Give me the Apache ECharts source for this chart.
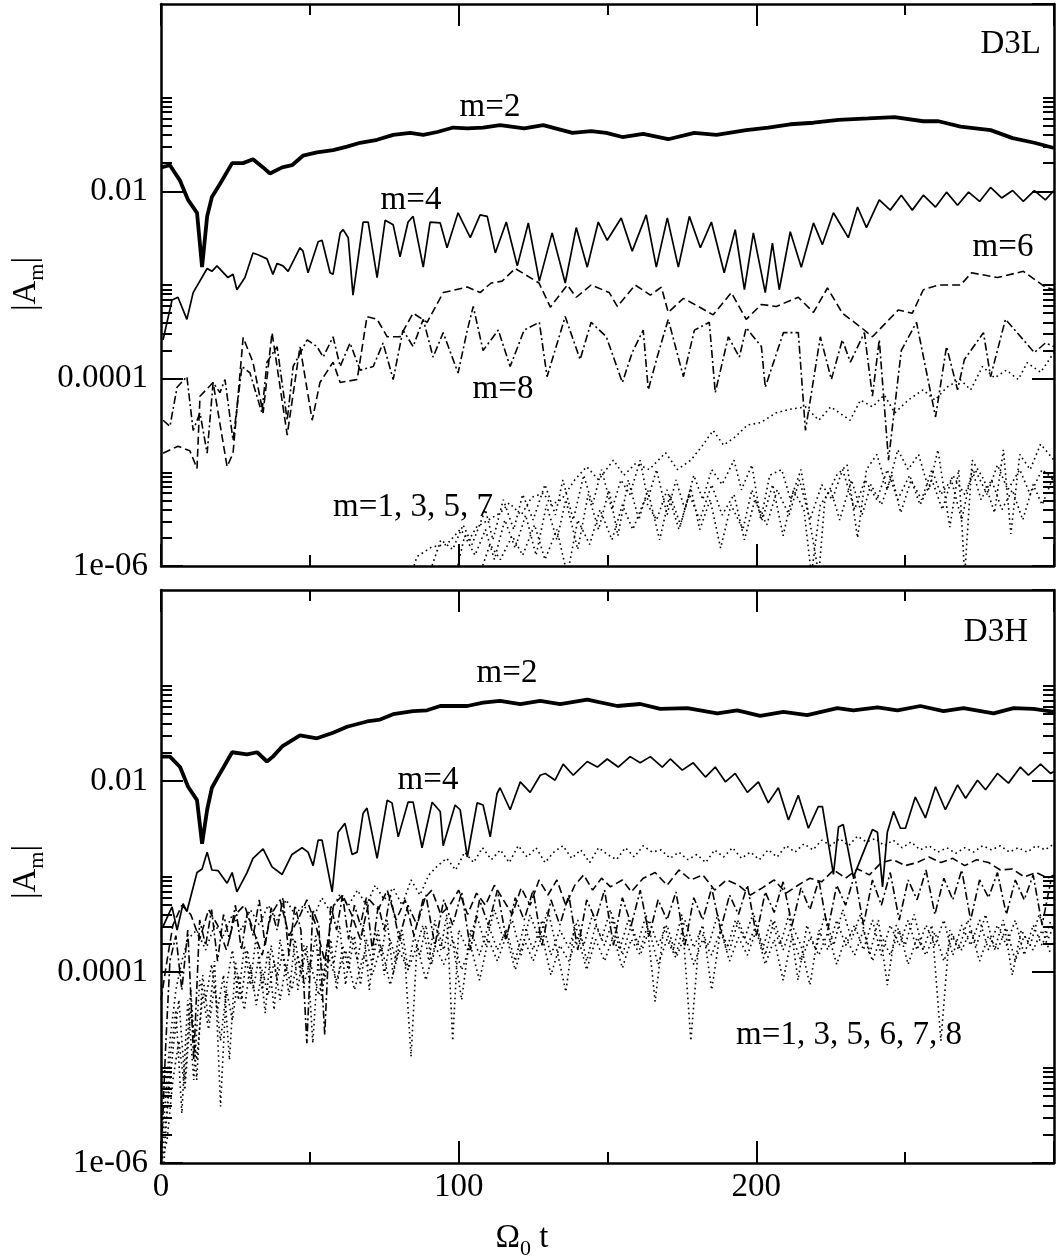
<!DOCTYPE html>
<html>
<head>
<meta charset="utf-8">
<title>|A_m| vs Omega_0 t</title>
<script src="https://cdn.jsdelivr.net/npm/echarts@6.0.0/dist/echarts.min.js"></script>
<style>
  html, body { margin: 0; padding: 0; background: #fff; }
  #chart { width: 1058px; height: 1256px; }
</style>
</head>
<body>
<div id="chart"></div>
<script>
// axis ticks / labels
var xMax = 300;
var xLabelValues = [0, 100, 200];
var yMajorExp = [-6, -4, -2, 0];
var yTickLabels = ['1e-06', '0.0001', '0.01', '1'];
var yMinorMult = [2, 3, 4, 5, 6, 7, 8, 9, 10];

// ---- panel D3L : [Omega_0 t, |A_m|] ----
var m2Top = [[0,1.8e-2],[3,1.9e-2],[6.4,1.3e-2],[9.1,8.1e-3],[12.1,5.9e-3],[13.8,1.55e-3],[15.5,5.4e-3],[17.1,8.7e-3],[19.8,1.2e-2],[23.9,2.0e-2],[27.6,2.0e-2],[30.9,2.2e-2],[34.3,1.8e-2],[36.6,1.55e-2],[40.7,1.8e-2],[44,1.9e-2],[47.7,2.4e-2],[52.4,2.6e-2],[57.8,2.75e-2],[62.5,3.0e-2],[66.9,3.3e-2],[72.6,3.55e-2],[78,4.0e-2],[83.7,4.2e-2],[88.1,4.0e-2],[92.8,4.3e-2],[98.2,4.8e-2],[102.9,4.7e-2],[108.2,4.8e-2],[113.9,5.1e-2],[122,4.7e-2],[128.4,5.1e-2],[138.2,4.2e-2],[144.5,4.4e-2],[149.6,4.2e-2],[155,3.8e-2],[162,4.1e-2],[170.4,3.6e-2],[179.2,4.2e-2],[186.6,4.0e-2],[196.6,4.5e-2],[204,4.8e-2],[211.4,5.2e-2],[219.2,5.4e-2],[227.6,5.8e-2],[237.6,6.0e-2],[246.4,6.2e-2],[256.1,5.6e-2],[261.2,5.6e-2],[268.6,4.9e-2],[278.7,4.5e-2],[286.1,3.7e-2],[293.4,3.3e-2],[300,2.9e-2]];

var m4Top = [[0.7,2.6e-4],[3.7,6.9e-4],[5.7,7.4e-4],[8.7,4.3e-4],[10.8,8.3e-4],[15.5,1.5e-3],[17.1,1.4e-3],[18.8,1.6e-3],[22.5,1.2e-3],[24.2,1.3e-3],[25.5,8.9e-4],[28.2,1.2e-3],[30.9,2.2e-3],[32.6,2.1e-3],[35.6,1.9e-3],[37.6,1.3e-3],[39,1.7e-3],[41,1.6e-3],[42.7,1.4e-3],[46.7,2.5e-3],[47.7,2.3e-3],[49.4,1.35e-3],[52.8,2.9e-3],[54.1,3.0e-3],[56.8,1.35e-3],[57.8,1.3e-3],[60.2,3.6e-3],[61.2,3.9e-3],[62.9,3.2e-3],[64.5,7.8e-4],[67.9,4.7e-3],[69.6,4.7e-3],[72.6,1.2e-3],[75.3,4.9e-3],[78,4.4e-3],[80.3,2.0e-3],[83,4.7e-3],[84.7,5.4e-3],[88.1,1.55e-3],[90.4,4.7e-3],[93.8,4.6e-3],[96.1,2.5e-3],[99.8,5.9e-3],[103.9,3.2e-3],[107.2,5.6e-3],[109.6,5.4e-3],[112.3,2.2e-3],[116,4.7e-3],[119.7,1.6e-3],[123.4,4.6e-3],[127.1,1.1e-3],[131.4,3.6e-3],[135.8,1.05e-3],[139.5,4.1e-3],[143.2,1.55e-3],[146.9,4.7e-3],[149.9,3.0e-3],[154.6,5.2e-3],[158.3,2.3e-3],[163,5.6e-3],[166.4,1.55e-3],[170.1,5.2e-3],[173.8,1.55e-3],[177.5,5.4e-3],[181.2,2.5e-3],[184.9,4.7e-3],[189.2,1.35e-3],[192.9,3.9e-3],[196,8.9e-4],[199,3.6e-3],[203,8.3e-4],[205.4,2.8e-3],[207.7,8.9e-4],[211.4,3.7e-3],[215.1,1.55e-3],[219.2,4.6e-3],[222.2,2.7e-3],[225.9,5.9e-3],[230.9,3.2e-3],[234,6.8e-3],[237,4.1e-3],[241.3,8.1e-3],[245,6.3e-3],[248.7,9.1e-3],[252.4,6.3e-3],[256.1,9.1e-3],[260.2,6.8e-3],[263.9,9.8e-3],[267.6,7.1e-3],[271.3,9.8e-3],[275,7.8e-3],[278.7,1.1e-2],[282.4,8.5e-3],[286.1,1.02e-2],[289.7,7.8e-3],[293.4,1.02e-2],[297.1,8.1e-3],[300,1.02e-2]];

var m6Top = [[0.7,1.6e-5],[5.7,1.9e-5],[9.7,1.7e-5],[12.1,1.1e-5],[13.1,6.5e-5],[17.5,9.1e-5],[22.2,1.15e-5],[24.2,1.6e-5],[27.6,2.75e-4],[30.9,1.5e-4],[34.3,4.3e-5],[37.3,3.1e-4],[42.4,2.5e-5],[46.7,2.2e-4],[50.8,3.6e-5],[53.4,9.1e-5],[57.8,1.5e-4],[60.2,9.1e-5],[65.9,9.8e-5],[69.2,4.6e-4],[72.6,4.3e-4],[76,2.8e-4],[80.3,2.8e-4],[84.7,5.0e-4],[89.4,4.0e-4],[94.8,8.3e-4],[102.9,9.5e-4],[107.2,8.3e-4],[110.9,1.05e-3],[114.6,1.1e-3],[119,1.5e-3],[127,1.05e-3],[130.8,5.8e-4],[136.5,1.0e-3],[139.5,7.4e-4],[144.5,1.0e-3],[150.6,8.3e-4],[153.3,5.9e-4],[159.3,1.0e-3],[164.4,7.8e-4],[168.1,9.5e-4],[170.4,5.1e-4],[175.5,7.2e-4],[180.5,5.9e-4],[185.5,4.8e-4],[191.6,8.3e-4],[196.6,4.3e-4],[201.7,6.2e-4],[206.7,5.9e-4],[214.1,7.4e-4],[219.2,5.1e-4],[223.9,9.3e-4],[228.9,5.0e-4],[235.3,3.5e-4],[239,2.8e-4],[243.7,4.0e-4],[247.7,5.4e-4],[252.4,5.0e-4],[256.1,8.9e-4],[261.2,1.0e-3],[268.6,1.0e-3],[272.3,1.35e-3],[281,1.2e-3],[289.7,1.4e-3],[297.1,9.5e-4],[300,8.9e-4]];

var m8Top = [[0.7,3.6e-5],[3,3.1e-5],[5.4,8.1e-5],[8.7,1.05e-4],[10.8,2.8e-5],[13.1,4.3e-5],[15.5,1.6e-5],[17.5,9.1e-5],[19.8,7.1e-5],[21.5,9.8e-5],[24.2,2.2e-5],[27.2,1.35e-4],[29.9,1.15e-4],[33.9,4.3e-5],[35.6,1.5e-4],[39,2.2e-4],[42.4,3.6e-5],[44.4,1.35e-4],[49.1,2.6e-4],[52.4,2.2e-4],[54.5,1.7e-4],[57.8,2.8e-4],[60.2,1.35e-4],[63.5,2.4e-4],[66.9,1.23e-4],[71.3,1.35e-4],[74.6,2.4e-4],[78,9.8e-5],[81.3,3.3e-4],[84.7,2.2e-4],[88.1,4.3e-4],[91.4,1.7e-4],[94.8,3.1e-4],[99.8,1.15e-4],[102.9,3.3e-4],[104.9,5.9e-4],[108.2,2.0e-4],[113.3,3.3e-4],[117.3,1.35e-4],[122,3.3e-4],[127.1,4.0e-4],[129.7,1.05e-4],[135.8,4.6e-4],[140.8,1.6e-4],[144.5,4.0e-4],[149.6,2.8e-4],[155,9.1e-5],[158.3,1.9e-4],[162,3.3e-4],[163.7,7.6e-5],[166.7,1.7e-4],[170.4,4.3e-4],[175.5,1.05e-4],[179.2,3.3e-4],[184.2,4.0e-4],[186.2,7.1e-5],[190.6,2.8e-4],[194.3,1.7e-4],[196.6,3.5e-4],[201.7,2.2e-4],[203,8.1e-5],[209.1,3.1e-4],[214.1,3.1e-4],[216.5,2.8e-5],[221.5,2.8e-4],[225.2,9.8e-5],[228.9,2.6e-4],[231.6,1.5e-4],[236.3,3.1e-4],[239,6.5e-5],[241.3,2.6e-4],[244.4,1.35e-5],[248.7,2.0e-4],[253.8,4.0e-4],[260.2,3.9e-5],[263.9,2.2e-4],[267.6,7.6e-5],[269.9,1.6e-4],[276.3,3.1e-4],[278.7,1.05e-4],[283.7,4.3e-4],[289.7,2.6e-4],[293.4,1.9e-4],[297.1,2.4e-4],[300,2.2e-4]];

var m1Top = [[84,8e-7],[86,1.26e-6],[91,1.6e-6],[96,1.7e-6],[100.5,2.45e-6],[103.5,1.9e-6],[106,2.6e-6],[110,3.1e-6],[114,3.7e-6],[117,4.7e-6],[121,3.5e-6],[124.5,5.4e-6],[128.5,6.0e-6],[131,4.5e-6],[134.5,5.1e-6],[139,8.3e-6],[143,1.15e-5],[147,8.3e-6],[152,1.35e-5],[155.5,9.3e-6],[159.5,1.25e-5],[164,1.07e-5],[169.5,1.62e-5],[173.5,1.07e-5],[178,1.35e-5],[182,1.95e-5],[185.5,2.8e-5],[189,1.95e-5],[193,2.4e-5],[197,3.2e-5],[201.5,3.4e-5],[206.5,4.3e-5],[211,4.7e-5],[216.5,5.0e-5],[221,3.6e-5],[225,5.0e-5],[231.5,3.6e-5],[235,5.9e-5],[239,5.0e-5],[243,6.7e-5],[246.5,4.3e-5],[251,5.9e-5],[256,7.6e-5],[260,5.9e-5],[264,8.1e-5],[268.5,9.8e-5],[272,7.6e-5],[276,1.35e-4],[280,1.02e-4],[284,1.23e-4],[288,9.8e-5],[291,1.48e-4],[295.5,1.17e-4],[300,1.9e-4]];

var m3Top = [[90,8e-7],[94,1.9e-6],[98,1.5e-6],[101.5,2.75e-6],[104.5,1.7e-6],[109,4.0e-6],[111.5,1.9e-6],[115,5.1e-6],[118.5,2.45e-6],[121.5,5.8e-6],[125,3.1e-6],[129,7.4e-6],[132.5,3.5e-6],[135,8.3e-6],[138.5,3.1e-6],[142,9.3e-6],[145,4.5e-6],[148,1.07e-5],[151.5,4.0e-6],[154.5,8.3e-6],[157.5,5.8e-6],[161,1.35e-5],[163.5,5.1e-6],[166.5,1.07e-5],[170,3.5e-6],[173,8.3e-6],[176,4.0e-6],[179,9.3e-6],[182,5.1e-6],[185,1.07e-5],[188.5,7.4e-6],[192.5,1.35e-5],[195,6.5e-6],[198.5,1.2e-5],[201.5,3.1e-6],[204.5,9.3e-6],[208.5,1.07e-5],[211.5,5.1e-6],[215,1.07e-5],[219,1.9e-6],[221,8e-7],[223,5.1e-6],[227,9.3e-6],[230.5,1.2e-5],[234,2.0e-6],[237,1.07e-5],[240.5,1.55e-5],[244,6.5e-6],[247.5,1.74e-5],[251,1.07e-5],[254.5,1.55e-5],[258,6.5e-6],[261,1.74e-5],[265,2.6e-6],[268,1.07e-5],[270,8e-7],[272.5,1.35e-5],[276.5,8.3e-6],[280,3.7e-6],[283,1.74e-5],[285.5,2.2e-6],[288.5,1.55e-5],[292,1.07e-5],[295.5,2.0e-5],[300,1.35e-5]];

var m5Top = [[99,8e-7],[102,2.1e-6],[105.5,1.3e-6],[109,2.45e-6],[112,1.17e-6],[115.5,3.1e-6],[119,1.55e-6],[122.5,3.5e-6],[126,1.3e-6],[129.5,4.5e-6],[133,1.9e-6],[136,5.1e-6],[140,1.5e-6],[143.5,5.8e-6],[147,2.45e-6],[150.5,6.5e-6],[153.5,2.1e-6],[157,8.3e-6],[160.5,3.1e-6],[163.5,6.5e-6],[167.5,1.9e-6],[171,5.8e-6],[174.5,2.75e-6],[178,6.8e-6],[181,2.45e-6],[184.5,5.1e-6],[188,1.55e-6],[191.5,4.5e-6],[195.5,2.45e-6],[198.5,6.5e-6],[202,3.1e-6],[205.5,7.4e-6],[209,2.1e-6],[212.5,6.5e-6],[216,4.0e-6],[218.5,8e-7],[221.5,4.5e-6],[225,6.5e-6],[228,3.1e-6],[232,8.3e-6],[235.5,3.5e-6],[238.5,7.4e-6],[242,4.5e-6],[245.5,9.3e-6],[248.5,3.7e-6],[252,8.3e-6],[255.5,5.1e-6],[259,1.07e-5],[262,5.8e-6],[265.5,8.3e-6],[269,3.1e-6],[272.5,1.07e-5],[275.5,5.1e-6],[279,8.3e-6],[282.5,4.0e-6],[286,6.5e-6],[289.5,3.1e-6],[293,7.4e-6],[296,4.5e-6],[300,9.3e-6]];

var m7Top = [[107,8e-7],[110.5,1.7e-6],[114,1.17e-6],[118,2.1e-6],[121.5,1.3e-6],[125.5,2.75e-6],[129,1.17e-6],[133,2.45e-6],[136.5,8e-7],[140,3.1e-6],[144,1.7e-6],[147.5,4.0e-6],[151.5,1.9e-6],[155,4.5e-6],[158.5,2.45e-6],[162.5,5.1e-6],[166.5,3.1e-6],[170,6.5e-6],[174,2.45e-6],[177.5,5.8e-6],[181,3.1e-6],[185,7.4e-6],[188.5,3.5e-6],[192.5,5.8e-6],[196,1.9e-6],[199.5,5.1e-6],[203.5,2.75e-6],[207,6.5e-6],[211,3.5e-6],[214.5,8.3e-6],[218,3.1e-6],[222,7.4e-6],[225.5,5.1e-6],[229,1.07e-5],[233,4.0e-6],[236.5,8.3e-6],[240.5,5.1e-6],[244,1.07e-5],[247.5,5.1e-6],[251.5,9.3e-6],[255,4.5e-6],[259,8.3e-6],[262.5,4.0e-6],[266,9.3e-6],[270,5.8e-6],[273.5,1.07e-5],[277.5,5.8e-6],[281,1.2e-5],[284.5,6.5e-6],[288.5,1.07e-5],[292,5.8e-6],[296,1.07e-5],[300,8.3e-6]];

// ---- panel D3H ----
var m2Bot = [[0,1.8e-2],[3,1.8e-2],[6.4,1.4e-2],[9.1,8.7e-3],[12.1,6.3e-3],[13.8,2.2e-3],[15.5,5.0e-3],[17.1,8.5e-3],[19.8,1.2e-2],[23.9,2.0e-2],[28.9,1.9e-2],[32.3,2.0e-2],[35.6,1.6e-2],[37.6,1.8e-2],[40.7,2.3e-2],[46.7,3.0e-2],[52.4,2.8e-2],[57.8,3.2e-2],[62.5,3.7e-2],[69.2,4.2e-2],[73.6,4.4e-2],[78,5.0e-2],[84.7,5.4e-2],[89.4,5.5e-2],[93.8,6.1e-2],[102.9,6.1e-2],[108.2,6.6e-2],[113.9,6.9e-2],[120.7,6.4e-2],[127.4,6.9e-2],[134.1,6.4e-2],[143.2,7.1e-2],[153.3,6.1e-2],[161,6.4e-2],[167.7,5.7e-2],[176.8,5.8e-2],[186.9,5.1e-2],[193.6,5.5e-2],[201.3,4.8e-2],[209.1,5.3e-2],[217.1,4.9e-2],[227.2,5.8e-2],[232.6,5.5e-2],[240.7,5.9e-2],[247.4,5.5e-2],[255.1,6.1e-2],[262.9,5.4e-2],[269.6,5.8e-2],[279.7,5.1e-2],[286.4,5.8e-2],[293.1,5.7e-2],[300,5.3e-2]];

var m4Bot = [[0.7,3.0e-4],[3.7,4.8e-4],[5.4,2.75e-4],[7.4,5.2e-4],[8.7,4.3e-4],[12.1,1.1e-3],[13.8,1.2e-3],[15.5,1.8e-3],[17.1,1.17e-3],[19.2,1.15e-3],[22.2,8.5e-4],[23.9,1.1e-3],[25.5,6.9e-4],[28.9,1.1e-3],[30.9,1.55e-3],[34.3,1.95e-3],[37.3,1.26e-3],[40.7,1.05e-3],[44,1.7e-3],[47.4,2.0e-3],[49.4,1.8e-3],[51.1,1.3e-3],[52.8,2.4e-3],[54.1,2.4e-3],[57.5,6.9e-4],[59.5,2.9e-3],[61.8,3.6e-3],[64.2,1.7e-3],[65.9,1.8e-3],[67.9,4.6e-3],[69.2,5.2e-3],[72.6,1.55e-3],[76,6.3e-3],[77.6,5.9e-3],[79.7,2.6e-3],[83,6.0e-3],[84.7,6.0e-3],[87.7,2.0e-3],[91.1,6.0e-3],[93.8,4.8e-3],[94.8,2.1e-3],[98.8,5.6e-3],[100.5,5.0e-3],[102.9,1.6e-3],[106.2,5.9e-3],[108.2,5.6e-3],[110.6,2.6e-3],[112.9,7.4e-3],[113.9,8.5e-3],[117.3,5.0e-3],[120.7,9.8e-3],[124,7.6e-3],[127.4,1.15e-2],[129.1,1.2e-2],[132.4,1.02e-2],[135.1,1.5e-2],[138.5,1.15e-2],[143.2,1.6e-2],[146.6,1.4e-2],[149.9,1.7e-2],[153.6,1.4e-2],[157.6,1.8e-2],[161,1.55e-2],[164.4,1.8e-2],[168.4,1.4e-2],[171.1,1.7e-2],[175.1,1.3e-2],[178.8,1.55e-2],[182.9,1.1e-2],[186.2,1.4e-2],[189.6,9.8e-3],[192.9,1.2e-2],[197,7.6e-3],[200.7,9.8e-3],[204,5.9e-3],[207.4,8.5e-3],[210.8,3.9e-3],[214.1,7.1e-3],[217.5,3.2e-3],[220.8,5.4e-3],[222.2,5.4e-3],[225.9,1.05e-3],[227.6,3.3e-3],[229.2,3.5e-3],[232.6,9.8e-4],[239,3.1e-3],[240.7,2.9e-3],[242.4,7.8e-4],[244,2.9e-3],[246.1,4.8e-3],[248.4,3.2e-3],[250.1,3.2e-3],[253.4,6.8e-3],[256.8,4.1e-3],[260.2,8.7e-3],[263.5,5.0e-3],[267.6,9.1e-3],[270.3,6.6e-3],[274.3,1.02e-2],[277,8.1e-3],[281,1.2e-2],[284.7,9.5e-3],[288.7,1.4e-2],[291.4,1.15e-2],[295.5,1.5e-2],[298.8,1.2e-2],[300,1.26e-2]];

var m1Bot = [[0,1e-6],[1.5,4.6e-6],[3,1.9e-5],[5,6.5e-5],[7,1.3e-4],[9,2.2e-4],[12,2.75e-4],[15,1.7e-4],[18,3.1e-4],[21,2.4e-4],[24,4.0e-4],[27,2.75e-4],[30,4.5e-4],[33,3.1e-4],[36,5.0e-4],[39,3.5e-4],[42,5.7e-4],[45,4.0e-4],[48,5.0e-4],[51,3.5e-4],[54,6.0e-4],[57,4.2e-4],[60,6.4e-4],[63,5.0e-4],[66,7.2e-4],[69,5.0e-4],[72,8.1e-4],[75,5.7e-4],[78,7.6e-4],[81,5.0e-4],[84,9.2e-4],[87,6.4e-4],[90,1.04e-3],[93,1.3e-3],[96,1.55e-3],[99,1.17e-3],[102,1.8e-3],[105,1.4e-3],[108,2.0e-3],[111,1.5e-3],[114,1.9e-3],[117,1.4e-3],[120,2.1e-3],[123,1.6e-3],[126,2.0e-3],[129,1.4e-3],[132,1.8e-3],[135,2.1e-3],[138,1.55e-3],[141,1.9e-3],[144,1.4e-3],[147,2.0e-3],[150,1.7e-3],[153,1.5e-3],[156,2.0e-3],[159,1.6e-3],[162,2.1e-3],[165,1.8e-3],[168,1.9e-3],[171,1.55e-3],[174,1.8e-3],[177,1.5e-3],[180,1.7e-3],[183,1.4e-3],[186,1.9e-3],[189,1.6e-3],[192,2.0e-3],[195,1.55e-3],[198,1.8e-3],[201,1.5e-3],[204,1.9e-3],[207,1.6e-3],[210,2.1e-3],[213,1.8e-3],[216,2.2e-3],[219,1.9e-3],[222,2.4e-3],[225,2.1e-3],[228,2.5e-3],[231,2.1e-3],[234,2.65e-3],[237,2.3e-3],[240,2.5e-3],[243,2.1e-3],[246,2.4e-3],[249,2.0e-3],[252,2.3e-3],[255,1.9e-3],[258,2.1e-3],[261,1.8e-3],[264,2.0e-3],[267,1.75e-3],[270,2.0e-3],[273,1.8e-3],[276,2.1e-3],[279,1.9e-3],[282,2.1e-3],[285,1.8e-3],[288,2.0e-3],[291,1.8e-3],[294,2.1e-3],[297,1.9e-3],[300,2.2e-3]];

var m3Bot = [[0,1e-6],[2,3.3e-6],[4,1.5e-5],[6,5.1e-5],[8,7.4e-6],[10,6.5e-5],[12,7.4e-6],[14,9.3e-5],[16,3.1e-5],[18,1.3e-4],[20,3.9e-6],[22,7.3e-5],[24,1.7e-4],[26,5.1e-5],[28,1.9e-4],[30,7.3e-5],[32,2.4e-4],[34,6.5e-5],[36,1.7e-4],[38,4.0e-5],[40,2.2e-4],[42,9.3e-5],[44,2.75e-4],[46,6.5e-5],[48,1.9e-4],[50,1.05e-4],[52,2.4e-4],[54,5.1e-5],[56,2.2e-4],[58,1.2e-4],[60,3.1e-4],[62,7.3e-5],[64,2.4e-4],[66,1.3e-4],[68,3.1e-4],[70,6.5e-5],[72,2.75e-4],[74,1.5e-4],[76,3.5e-4],[78,9.3e-5],[80,2.75e-4],[82,1.3e-4],[84,1.3e-5],[86,1.9e-4],[88,3.1e-4],[90,1.3e-4],[92,3.5e-4],[94,1.7e-4],[96,4.0e-4],[98,1.9e-5],[100,2.75e-4],[103,1.7e-4],[106,4.0e-4],[109,1.9e-4],[112,4.5e-4],[115,2.2e-4],[118,3.5e-4],[121,1.5e-4],[124,4.0e-4],[127,2.2e-4],[130,4.5e-4],[133,1.7e-4],[136,6.2e-5],[139,3.1e-4],[142,1.9e-4],[145,4.0e-4],[148,2.2e-4],[151,4.5e-4],[154,1.7e-4],[157,3.5e-4],[160,1.9e-4],[163,4.0e-4],[166,4.9e-5],[169,3.1e-4],[172,1.7e-4],[175,4.0e-4],[178,1.9e-5],[181,2.75e-4],[184,1.9e-4],[187,4.0e-4],[190,1.7e-4],[193,3.5e-4],[196,2.2e-4],[199,4.2e-4],[202,1.7e-4],[205,3.5e-4],[208,1.9e-4],[211,4.0e-4],[214,8.2e-5],[217,3.1e-4],[220,1.7e-4],[223,4.0e-4],[226,1.9e-4],[229,4.5e-4],[232,2.2e-4],[235,4.0e-4],[238,1.5e-4],[241,3.5e-4],[244,7.3e-5],[247,3.1e-4],[250,1.9e-4],[253,4.0e-4],[256,1.7e-4],[259,3.1e-4],[262,1.9e-5],[265,2.75e-4],[268,1.7e-4],[271,3.5e-4],[274,1.9e-4],[277,4.0e-4],[280,1.7e-4],[283,3.5e-4],[286,9.3e-5],[289,2.75e-4],[292,1.9e-4],[295,4.0e-4],[298,2.2e-4],[300,3.1e-4]];

var m5Bot = [[1,1e-6],[3,1.2e-5],[5,4.0e-5],[7,3.3e-6],[9,5.1e-5],[11,7.4e-6],[13,8.2e-5],[15,5.1e-5],[17,1.2e-4],[19,4.0e-5],[21,9.3e-5],[23,1.2e-5],[25,1.3e-4],[27,5.1e-5],[29,1.7e-4],[31,6.5e-5],[33,1.5e-4],[35,3.7e-5],[37,1.9e-4],[39,8.2e-5],[41,1.7e-4],[43,5.7e-5],[45,2.2e-4],[47,9.3e-5],[49,1.9e-4],[51,1.8e-5],[53,1.7e-4],[55,8.2e-5],[57,2.2e-4],[59,6.5e-5],[61,1.9e-4],[63,1.05e-4],[65,2.4e-4],[67,7.3e-5],[69,2.2e-4],[71,1.2e-4],[73,2.75e-4],[75,9.3e-5],[77,2.2e-4],[79,1.3e-4],[81,2.75e-4],[83,1.05e-4],[85,2.4e-4],[87,1.5e-4],[89,3.1e-4],[91,1.2e-4],[93,2.75e-4],[95,1.7e-4],[97,3.3e-4],[99,1.3e-4],[101,5.1e-5],[104,2.75e-4],[107,1.5e-4],[110,3.1e-4],[113,1.7e-4],[116,2.75e-4],[119,1.3e-4],[122,3.1e-4],[125,1.7e-4],[128,3.5e-4],[131,1.5e-4],[134,2.75e-4],[137,1.8e-4],[140,3.5e-4],[143,1.3e-4],[146,3.1e-4],[149,1.9e-4],[152,3.7e-4],[155,1.5e-4],[158,3.1e-4],[161,1.7e-4],[164,3.5e-4],[167,1.9e-4],[170,3.1e-4],[173,1.5e-4],[176,3.5e-4],[179,1.8e-4],[182,3.1e-4],[185,6.5e-5],[188,2.75e-4],[191,1.7e-4],[194,3.5e-4],[197,1.9e-4],[200,3.1e-4],[203,1.5e-4],[206,3.5e-4],[209,1.7e-4],[212,3.1e-4],[215,1.9e-4],[218,7.3e-5],[221,2.75e-4],[224,1.7e-4],[227,3.5e-4],[230,1.9e-4],[233,3.1e-4],[236,1.7e-4],[239,3.5e-4],[242,1.5e-4],[245,3.1e-4],[248,1.9e-4],[251,3.5e-4],[254,1.7e-4],[257,3.1e-4],[260,1.9e-4],[263,3.5e-4],[266,1.5e-4],[269,3.1e-4],[272,1.9e-4],[275,3.5e-4],[278,1.7e-4],[281,3.1e-4],[284,1.9e-4],[287,3.5e-4],[290,1.5e-4],[293,3.1e-4],[296,1.9e-4],[299,3.5e-4]];

var m7Bot = [[0,1e-6],[2,1.7e-6],[4,7.4e-6],[6,1.9e-5],[8,5.8e-6],[10,4.0e-5],[12,1.2e-5],[14,5.7e-5],[16,2.5e-5],[18,7.3e-5],[20,1.9e-5],[22,6.5e-5],[24,3.1e-5],[26,9.3e-5],[28,4.0e-5],[30,1.2e-4],[32,4.5e-5],[34,1.05e-4],[36,5.7e-5],[38,1.3e-4],[40,5.1e-5],[42,1.2e-4],[44,6.5e-5],[46,1.5e-4],[48,7.3e-5],[50,1.3e-4],[53,5.7e-5],[56,1.5e-4],[59,8.2e-5],[62,1.7e-4],[65,6.5e-5],[68,1.5e-4],[71,9.3e-5],[74,1.9e-4],[77,7.3e-5],[80,1.7e-4],[83,1.05e-4],[86,1.9e-4],[89,8.2e-5],[92,1.9e-4],[95,1.2e-4],[98,2.2e-4],[101,1.05e-4],[104,1.9e-4],[107,8.2e-5],[110,2.2e-4],[113,1.3e-4],[116,2.4e-4],[119,1.05e-4],[122,2.2e-4],[125,1.3e-4],[128,2.4e-4],[131,9.3e-5],[134,1.9e-4],[137,1.3e-4],[140,2.4e-4],[143,1.05e-4],[146,2.2e-4],[149,1.3e-4],[152,2.4e-4],[155,1.1e-4],[158,2.2e-4],[161,1.5e-4],[164,2.75e-4],[167,1.2e-4],[170,2.2e-4],[173,1.4e-4],[176,2.4e-4],[179,1.2e-4],[182,2.2e-4],[185,1.5e-4],[188,2.75e-4],[191,1.3e-4],[194,2.3e-4],[197,1.5e-4],[200,2.75e-4],[203,1.2e-4],[206,2.2e-4],[209,8.2e-5],[212,2.4e-4],[215,1.3e-4],[218,2.3e-4],[221,1.5e-4],[224,2.6e-4],[227,1.2e-4],[230,2.3e-4],[233,1.5e-4],[236,2.75e-4],[239,1.3e-4],[242,2.4e-4],[245,1.5e-4],[248,2.75e-4],[251,1.2e-4],[254,2.3e-4],[257,1.5e-4],[260,2.6e-4],[263,1.3e-4],[266,2.4e-4],[269,1.7e-4],[272,2.75e-4],[275,1.3e-4],[278,2.4e-4],[281,1.7e-4],[284,2.9e-4],[287,1.3e-4],[290,2.4e-4],[293,1.7e-4],[296,2.75e-4],[299,1.5e-4]];

var m6Bot = [[0,5.1e-5],[2,1.3e-4],[4,3.1e-4],[7,5.0e-4],[10,4.0e-4],[13,2.2e-4],[16,4.5e-4],[19,3.1e-4],[22,1.7e-4],[25,4.0e-4],[28,5.0e-4],[31,2.75e-4],[34,1.5e-4],[37,4.0e-4],[40,5.7e-4],[43,2.4e-4],[46,3.5e-4],[49,5.7e-4],[52,3.1e-4],[55,1.3e-4],[58,5.0e-4],[61,6.4e-4],[64,4.0e-4],[67,2.2e-4],[70,5.7e-4],[73,4.5e-4],[76,7.2e-4],[79,3.5e-4],[82,5.7e-4],[85,2.4e-4],[88,5.7e-4],[91,7.2e-4],[94,4.0e-4],[97,5.0e-4],[100,7.2e-4],[103,4.0e-4],[106,6.7e-4],[109,5.0e-4],[112,8.1e-4],[115,5.7e-4],[118,4.0e-4],[121,7.6e-4],[124,5.0e-4],[127,9.2e-4],[130,6.4e-4],[133,9.2e-4],[136,5.0e-4],[139,8.1e-4],[142,1.04e-3],[145,7.2e-4],[148,9.6e-4],[151,7.8e-4],[155,9.2e-4],[158,6.9e-4],[162,9.6e-4],[166,1.1e-3],[170,8.1e-4],[174,1.17e-3],[178,9.2e-4],[182,1.04e-3],[186,7.2e-4],[190,9.2e-4],[194,8.1e-4],[198,6.4e-4],[202,7.6e-4],[206,9.2e-4],[210,6.7e-4],[214,8.1e-4],[218,9.6e-4],[222,8.8e-4],[226,1.17e-3],[230,9.6e-4],[234,1.2e-3],[238,1.04e-3],[242,1.4e-3],[246,1.5e-3],[250,1.3e-3],[254,1.4e-3],[258,1.6e-3],[262,1.4e-3],[266,1.55e-3],[270,1.3e-3],[274,1.5e-3],[278,1.4e-3],[282,1.17e-3],[286,1.2e-3],[290,9.9e-4],[294,1.1e-3],[298,9.6e-4],[300,1.04e-3]];

var m8Bot = [[0,1e-6],[1.5,1.5e-5],[3,1.3e-4],[5,2.4e-4],[7,6.5e-5],[9,2.75e-4],[11,1.2e-5],[13,3.5e-4],[15,1.9e-4],[17,4.5e-4],[19,1.3e-4],[21,4.0e-4],[23,2.2e-4],[25,5.0e-4],[27,1.7e-4],[29,4.2e-4],[31,2.4e-4],[33,5.7e-4],[35,1.9e-4],[37,4.7e-4],[39,2.75e-4],[41,6.0e-4],[43,1.5e-4],[45,5.0e-4],[47,2.75e-4],[49,1.8e-5],[51,4.5e-4],[53,3.1e-4],[55,2.2e-5],[57,5.0e-4],[59,2.75e-4],[61,6.4e-4],[63,2.2e-4],[65,5.0e-4],[67,3.1e-4],[69,6.0e-4],[71,1.7e-4],[73,5.0e-4],[75,2.75e-4],[77,6.4e-4],[80,2.2e-4],[83,5.0e-4],[86,3.1e-4],[89,6.4e-4],[92,1.9e-4],[95,5.7e-4],[98,3.1e-4],[101,6.9e-4],[104,1.7e-4],[107,5.7e-4],[110,3.1e-4],[113,7.2e-4],[116,2.2e-4],[119,6.0e-4],[122,3.5e-4],[125,7.2e-4],[128,1.9e-4],[131,5.7e-4],[134,3.1e-4],[137,6.4e-4],[140,1.7e-4],[143,5.7e-4],[146,3.5e-4],[149,7.2e-4],[152,1.9e-4],[155,6.0e-4],[158,3.1e-4],[161,7.2e-4],[164,2.4e-4],[167,5.7e-4],[170,3.5e-4],[173,6.9e-4],[176,1.9e-4],[179,6.0e-4],[182,3.5e-4],[185,7.6e-4],[188,2.75e-4],[191,6.4e-4],[194,4.0e-4],[197,8.1e-4],[200,2.4e-4],[203,6.9e-4],[206,4.2e-4],[209,8.8e-4],[212,3.1e-4],[215,7.6e-4],[218,4.5e-4],[221,9.2e-4],[224,2.75e-4],[227,8.1e-4],[230,5.0e-4],[233,1.04e-3],[236,3.1e-4],[239,9.2e-4],[242,5.0e-4],[245,1.1e-3],[248,3.5e-4],[251,9.2e-4],[254,5.7e-4],[257,1.17e-3],[260,4.0e-4],[263,9.6e-4],[266,5.7e-4],[269,1.17e-3],[272,3.5e-4],[275,9.2e-4],[278,6.0e-4],[281,1.1e-3],[284,4.0e-4],[287,9.2e-4],[290,5.7e-4],[293,1.04e-3],[296,3.1e-4],[299,9.2e-4]];

// ---- styling ----
var FONT = 'Liberation Serif';
var FS = 33;
var BLACK = '#000';
var grids = [
  { left: 161, top: 4, width: 893, height: 562 },
  { left: 161, top: 590, width: 893, height: 573 }
];

var yMinorExp = [];
yMajorExp.slice(0, 3).forEach(function (e) {
  yMinorMult.forEach(function (k) { yMinorExp.push(e + Math.log10(k)); });
});

function xAxisDef(g, pos, labels) {
  return {
    type: 'value', gridIndex: g, position: pos, min: 0, max: xMax, interval: 100,
    axisLine: { onZero: false, lineStyle: { color: BLACK, width: 2.5 } },
    axisTick: { inside: true, length: 22, lineStyle: { color: BLACK, width: 2 } },
    minorTick: { show: true, splitNumber: 2, length: 11, lineStyle: { color: BLACK, width: 2 } },
    splitLine: { show: false },
    axisLabel: {
      show: labels, margin: 8, color: BLACK, fontFamily: FONT, fontSize: FS,
      customValues: xLabelValues
    }
  };
}

function yMajorDef(g, pos) {
  return {
    type: 'value', gridIndex: g, position: pos, min: -6, max: 0, interval: 2,
    axisLine: { onZero: false, lineStyle: { color: BLACK, width: 2.5 } },
    axisTick: { inside: true, length: 22, lineStyle: { color: BLACK, width: 2 } },
    splitLine: { show: false },
    axisLabel: {
      show: pos === 'left', margin: 13, color: BLACK, fontFamily: FONT, fontSize: FS,
      showMaxLabel: false,
      formatter: function (v) {
        var i = yMajorExp.indexOf(Math.round(v));
        return i >= 0 ? yTickLabels[i] : '';
      }
    }
  };
}

function yMinorDef(g, pos) {
  return {
    type: 'value', gridIndex: g, position: pos, min: -6, max: 0,
    axisLine: { show: false, onZero: false },
    axisTick: { inside: true, length: 11, customValues: yMinorExp, lineStyle: { color: BLACK, width: 2 } },
    axisLabel: { show: false },
    splitLine: { show: false }
  };
}

function yLogDef(g) {
  return { type: 'log', logBase: 10, gridIndex: g, min: 1e-6, max: 1, show: false, splitLine: { show: false } };
}

var xAxes = [xAxisDef(0, 'bottom', false), xAxisDef(0, 'top', false), xAxisDef(1, 'bottom', true), xAxisDef(1, 'top', false)];
var yAxes = [
  yLogDef(0), yMajorDef(0, 'left'), yMinorDef(0, 'left'), yMajorDef(0, 'right'), yMinorDef(0, 'right'),
  yLogDef(1), yMajorDef(1, 'left'), yMinorDef(1, 'left'), yMajorDef(1, 'right'), yMinorDef(1, 'right')
];

var thick = { color: BLACK, width: 3.8, type: 'solid' };
var solid = { color: BLACK, width: 1.7, type: 'solid' };
var dashed = { color: BLACK, width: 1.6, type: [8, 4] };
var dashDot = { color: BLACK, width: 1.6, type: [8, 3, 2, 3] };
var dotted = { color: BLACK, width: 1.6, type: [1.6, 3.4] };

function line(name, data, panel, style) {
  return {
    type: 'line', name: name, data: data,
    xAxisIndex: panel === 0 ? 0 : 2, yAxisIndex: panel === 0 ? 0 : 5,
    symbol: 'none', showSymbol: false, animation: false, silent: true,
    lineStyle: style
  };
}

var series = [
  line('m=7', m7Top, 0, dotted), line('m=5', m5Top, 0, dotted), line('m=3', m3Top, 0, dotted), line('m=1', m1Top, 0, dotted),
  line('m=8', m8Top, 0, dashDot), line('m=6', m6Top, 0, dashed), line('m=4', m4Top, 0, solid), line('m=2', m2Top, 0, thick),
  line('m=7', m7Bot, 1, dotted), line('m=5', m5Bot, 1, dotted), line('m=3', m3Bot, 1, dotted), line('m=1', m1Bot, 1, dotted),
  line('m=8', m8Bot, 1, dashDot), line('m=6', m6Bot, 1, dashed), line('m=4', m4Bot, 1, solid), line('m=2', m2Bot, 1, thick)
];

function label(text, x, y, align) {
  return {
    type: 'text', x: x, y: y, silent: true,
    style: { text: text, fill: BLACK, fontFamily: FONT, fontSize: FS, align: align || 'center', verticalAlign: 'middle' }
  };
}

function subLabel(text, x, y, rot) {
  return {
    type: 'text', x: x, y: y, rotation: rot, silent: true,
    style: {
      text: text, fill: BLACK, fontFamily: FONT, fontSize: FS, lineHeight: 44,
      align: 'center', verticalAlign: 'middle',
      rich: { s: { fontFamily: FONT, fontSize: 22, lineHeight: 22, verticalAlign: 'bottom', fill: BLACK } }
    }
  };
}

var graphics = [
  label('D3L', 1041, 44, 'right'),
  label('m=2', 490, 107),
  label('m=4', 411, 200),
  label('m=6', 1003, 247),
  label('m=8', 503, 389),
  label('m=1, 3, 5, 7', 413, 507),
  label('D3H', 1028, 632, 'right'),
  label('m=2', 507, 673),
  label('m=4', 428, 780),
  label('m=1, 3, 5, 6, 7, 8', 849, 1035),
  subLabel('|A{s|m}|', 26, 284, Math.PI / 2),
  subLabel('|A{s|m}|', 26, 872, Math.PI / 2),
  subLabel('\u03A9{s|0} t', 522, 1238, 0)
];

var chart = echarts.init(document.getElementById('chart'), null, { renderer: 'canvas' });
chart.setOption({
  backgroundColor: '#fff',
  animation: false,
  grid: grids,
  xAxis: xAxes,
  yAxis: yAxes,
  series: series,
  graphic: graphics
});
window.addEventListener('resize', function () { chart.resize(); });
</script>
</body>
</html>
